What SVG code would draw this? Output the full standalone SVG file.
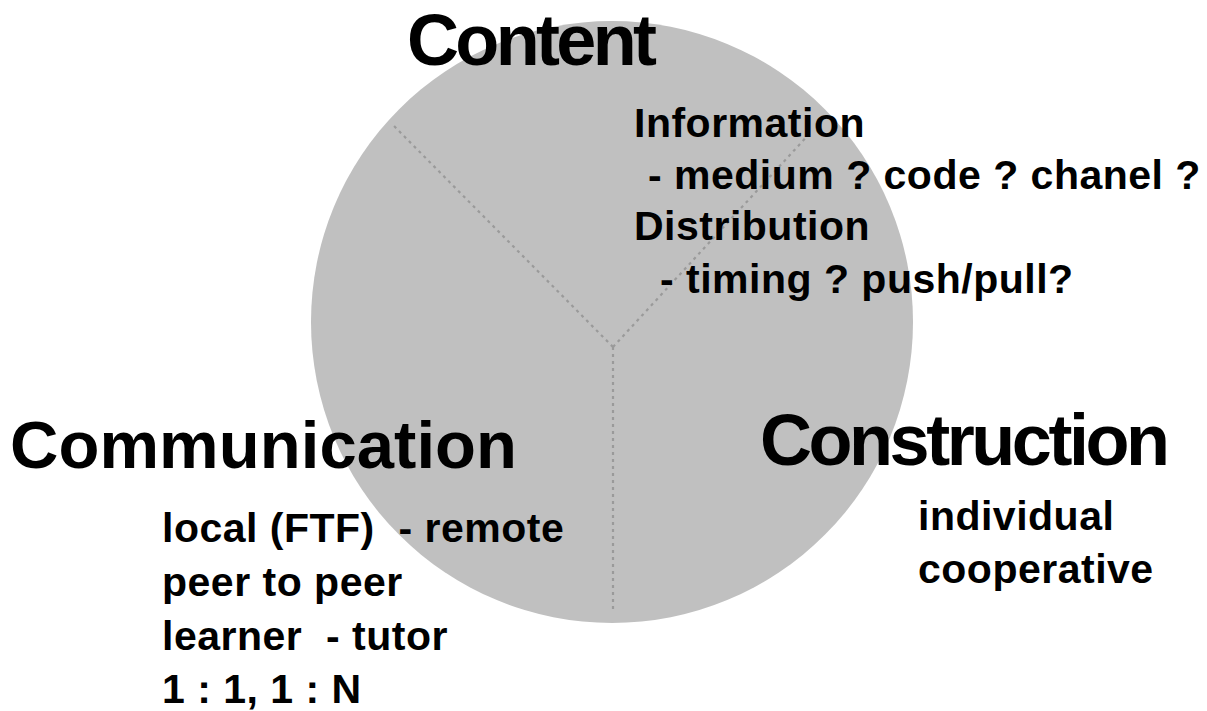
<svg xmlns="http://www.w3.org/2000/svg" width="1207" height="711" viewBox="0 0 1207 711">
<style>
.title{font-family:"Liberation Sans",Arial,sans-serif;font-weight:bold;fill:#000}
.body{font-family:"Liberation Sans",Arial,sans-serif;font-weight:bold;font-size:41px;letter-spacing:0.5px;fill:#000}
.div{stroke:#9a9a9a;stroke-width:2.2;stroke-dasharray:3 4;fill:none}
</style>
<rect width="1207" height="711" fill="#fff"/>
<g id="disc">
<circle cx="612" cy="322" r="301" fill="#c0c0c0"/>
</g>
<g id="connectors">
<line class="div" x1="613" y1="347" x2="393" y2="125"/>
<line class="div" x1="613" y1="347" x2="812" y2="131"/>
<line class="div" x1="613" y1="347" x2="613" y2="611"/>
</g>
<g id="content">
<text class="title" x="407" y="65" font-size="72" textLength="250" lengthAdjust="spacing">Content</text>
<text class="body" x="634" y="137">Information</text>
<text class="body" x="648" y="189" xml:space="preserve">- medium ? code ? chanel ?</text>
<text class="body" x="634" y="240">Distribution</text>
<text class="body" x="660" y="293" xml:space="preserve">- timing ? push/pull?</text>
</g>
<g id="communication">
<text class="title" x="10" y="468" font-size="67" textLength="507" lengthAdjust="spacing">Communication</text>
<text class="body" x="162" y="542" xml:space="preserve">local (FTF)  - remote</text>
<text class="body" x="162" y="596">peer to peer</text>
<text class="body" x="162" y="650" xml:space="preserve">learner  - tutor</text>
<text class="body" x="162" y="703">1 : 1, 1 : N</text>
</g>
<g id="construction">
<text class="title" x="760" y="465" font-size="72" textLength="410" lengthAdjust="spacing">Construction</text>
<text class="body" x="918" y="530">individual</text>
<text class="body" x="918" y="583">cooperative</text>
</g>
</svg>
